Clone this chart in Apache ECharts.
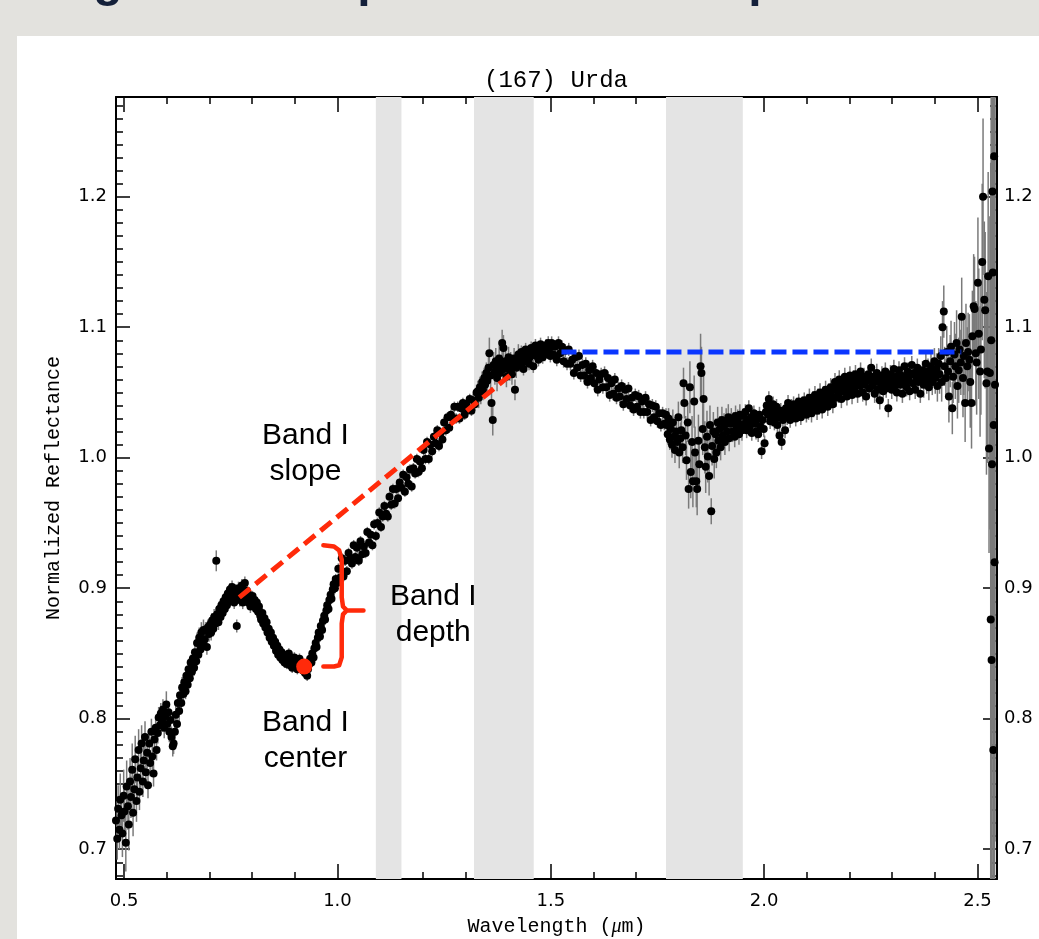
<!DOCTYPE html>
<html style="height: 100%">
<head>
    <meta charset="utf-8">
</head>
<body style="height: 100%; margin: 0">
<div id="container" style="width: 1039px; height: 939px"></div>
<script type="text/javascript" src="https://cdn.jsdelivr.net/npm/echarts@6/dist/echarts.min.js"></script>
<script type="text/javascript">
// spectrum of (167) Urda: [wavelength (um), normalized reflectance, 1-sigma]
var segBlue = [
    [0.481,0.722,0.015],[0.484,0.708,0.016],[0.486,0.731,0.018],[0.489,0.715,0.015],[0.491,0.738,0.02],
    [0.494,0.726,0.016],[0.496,0.712,0.018],[0.499,0.741,0.02],[0.501,0.729,0.018],[0.504,0.705,0.022],
    [0.506,0.748,0.02],[0.509,0.733,0.018],[0.511,0.719,0.02],[0.514,0.752,0.018],[0.516,0.740,0.016],
    [0.519,0.761,0.02],[0.521,0.728,0.018],[0.524,0.746,0.016],[0.526,0.769,0.018],[0.529,0.737,0.016],
    [0.531,0.755,0.015],[0.534,0.776,0.016],[0.536,0.744,0.014],[0.539,0.762,0.015],[0.541,0.781,0.014],
    [0.544,0.752,0.012],[0.546,0.768,0.012],[0.549,0.786,0.012],[0.551,0.759,0.012],[0.554,0.774,0.012],
    [0.556,0.749,0.01],[0.559,0.781,0.01],[0.561,0.766,0.01],[0.564,0.790,0.01],[0.566,0.771,0.01],
    [0.569,0.758,0.01],[0.571,0.784,0.008],[0.574,0.793,0.008],[0.576,0.776,0.008],[0.579,0.789,0.008],
    [0.581,0.801,0.008],[0.584,0.795,0.008],[0.586,0.804,0.008],[0.589,0.798,0.008],[0.591,0.807,0.008],
    [0.594,0.793,0.008],[0.596,0.802,0.008],[0.599,0.811,0.01],[0.601,0.796,0.008],[0.604,0.805,0.008],
    [0.606,0.790,0.008],[0.609,0.799,0.008],[0.611,0.786,0.008],[0.614,0.779,0.008],[0.616,0.781,0.008],
    [0.619,0.790,0.008],[0.621,0.803,0.008],[0.624,0.796,0.008],[0.626,0.812,0.008],[0.629,0.806,0.008],
    [0.631,0.818,0.008],[0.634,0.812,0.008],[0.636,0.824,0.008],[0.639,0.819,0.008]
];
var segRise = [
    [0.641,0.828,0.006],[0.644,0.821,0.006],[0.646,0.833,0.006],[0.649,0.826,0.006],[0.651,0.838,0.006],
    [0.654,0.831,0.006],[0.656,0.843,0.006],[0.659,0.836,0.006],[0.661,0.846,0.006],[0.664,0.839,0.006],
    [0.666,0.851,0.008],[0.669,0.844,0.006],[0.671,0.858,0.008],[0.674,0.849,0.006],[0.676,0.862,0.008],
    [0.679,0.853,0.006],[0.681,0.866,0.008],[0.684,0.858,0.006],[0.686,0.868,0.008],[0.689,0.861,0.006],
    [0.691,0.868,0.006],[0.694,0.855,0.006],[0.696,0.870,0.006],[0.699,0.865,0.006],[0.701,0.872,0.006],
    [0.704,0.866,0.006],[0.706,0.875,0.006],[0.709,0.869,0.006],[0.711,0.878,0.006],[0.714,0.873,0.006],
    [0.716,0.921,0.008],[0.718,0.880,0.006],[0.721,0.874,0.006],[0.723,0.884,0.006],[0.726,0.878,0.005],
    [0.728,0.887,0.005],[0.731,0.881,0.005],[0.733,0.890,0.005],[0.736,0.884,0.005],[0.738,0.893,0.005],
    [0.741,0.887,0.005],[0.743,0.896,0.005],[0.746,0.890,0.005],[0.748,0.899,0.005],[0.751,0.893,0.005],
    [0.753,0.901,0.005],[0.756,0.895,0.005],[0.758,0.889,0.005],[0.761,0.898,0.005],[0.764,0.871,0.005],
    [0.766,0.893,0.005],[0.768,0.900,0.005],[0.771,0.891,0.005],[0.773,0.896,0.005],[0.776,0.902,0.005],
    [0.778,0.889,0.005],[0.781,0.897,0.005],[0.783,0.904,0.005],[0.786,0.892,0.005],[0.788,0.898,0.005],
    [0.791,0.889,0.005],[0.793,0.895,0.005],[0.796,0.886,0.005],[0.798,0.891,0.005]
];
var segBandI = [
    [0.801,0.894,0.004],[0.804,0.887,0.004],[0.806,0.891,0.004],[0.809,0.884,0.004],[0.811,0.889,0.004],
    [0.814,0.882,0.004],[0.816,0.886,0.004],[0.819,0.879,0.004],[0.821,0.876,0.004],[0.824,0.881,0.004],
    [0.826,0.873,0.004],[0.829,0.877,0.004],[0.831,0.870,0.004],[0.834,0.874,0.004],[0.836,0.866,0.004],
    [0.839,0.869,0.004],[0.841,0.862,0.004],[0.844,0.866,0.004],[0.846,0.859,0.004],[0.849,0.862,0.004],
    [0.851,0.856,0.004],[0.854,0.859,0.004],[0.856,0.852,0.004],[0.859,0.856,0.004],[0.861,0.849,0.004],
    [0.864,0.853,0.004],[0.866,0.847,0.004],[0.869,0.851,0.004],[0.871,0.845,0.004],[0.874,0.849,0.004],
    [0.876,0.843,0.004],[0.879,0.847,0.004],[0.881,0.842,0.004],[0.884,0.846,0.004],[0.886,0.850,0.004],
    [0.889,0.841,0.004],[0.891,0.845,0.004],[0.894,0.839,0.004],[0.896,0.843,0.004],[0.899,0.847,0.004],
    [0.901,0.840,0.004],[0.904,0.844,0.004],[0.906,0.838,0.004],[0.909,0.842,0.004],[0.911,0.846,0.004],
    [0.914,0.839,0.004],[0.916,0.843,0.004],[0.919,0.837,0.004],[0.921,0.841,0.004],[0.924,0.835,0.004],
    [0.926,0.839,0.004],[0.929,0.833,0.004],[0.931,0.838,0.004],[0.934,0.842,0.004],[0.936,0.846,0.004],
    [0.939,0.843,0.004],[0.941,0.850,0.004],[0.944,0.847,0.004],[0.946,0.854,0.004],[0.949,0.858,0.004],
    [0.951,0.855,0.004],[0.954,0.862,0.004],[0.956,0.866,0.004],[0.959,0.863,0.004],[0.961,0.871,0.004],
    [0.964,0.868,0.004],[0.966,0.875,0.004],[0.969,0.879,0.004],[0.971,0.876,0.004],[0.974,0.883,0.004],
    [0.976,0.887,0.004],[0.979,0.884,0.004],[0.981,0.891,0.004],[0.984,0.895,0.004],[0.986,0.892,0.004],
    [0.989,0.899,0.004],[0.991,0.903,0.004],[0.994,0.900,0.004],[0.996,0.907,0.004],[0.999,0.904,0.004]
];
var segShoulder = [
    [1.002,0.915,0.004],[1.006,0.908,0.004],[1.010,0.923,0.004],[1.014,0.909,0.004],[1.018,0.921,0.004],
    [1.022,0.913,0.004],[1.026,0.927,0.004],[1.030,0.923,0.004],[1.034,0.919,0.004],[1.038,0.933,0.004],
    [1.042,0.924,0.004],[1.046,0.931,0.004],[1.050,0.921,0.004],[1.054,0.936,0.004],[1.058,0.926,0.004],
    [1.062,0.932,0.004],[1.066,0.927,0.004],[1.070,0.943,0.004],[1.074,0.935,0.004],[1.078,0.941,0.004],
    [1.082,0.933,0.004],[1.086,0.949,0.004],[1.090,0.940,0.004],[1.094,0.950,0.004],[1.098,0.958,0.004],
    [1.102,0.947,0.004],[1.106,0.955,0.004],[1.110,0.963,0.004],[1.114,0.957,0.004],[1.118,0.955,0.004],
    [1.122,0.970,0.004],[1.126,0.964,0.004],[1.130,0.976,0.004],[1.134,0.965,0.004],[1.138,0.976,0.004],
    [1.142,0.969,0.004],[1.146,0.981,0.004],[1.150,0.977,0.004],[1.154,0.987,0.004],[1.158,0.974,0.004],
    [1.162,0.985,0.004],[1.166,0.980,0.004],[1.170,0.991,0.004],[1.174,0.978,0.004],[1.178,0.992,0.004],
    [1.182,0.988,0.004],[1.186,0.999,0.004],[1.190,0.989,0.004],[1.194,0.997,0.004],[1.198,0.992,0.004],
    [1.202,1.006,0.004],[1.206,0.999,0.004],[1.210,1.012,0.004],[1.214,0.999,0.004],[1.218,1.010,0.004],
    [1.222,1.005,0.004],[1.226,1.016,0.004],[1.230,1.011,0.004],[1.234,1.021,0.004],[1.238,1.009,0.004],
    [1.242,1.019,0.004],[1.246,1.014,0.004],[1.250,1.027,0.004],[1.254,1.021,0.004],[1.258,1.031,0.004],
    [1.262,1.023,0.004],[1.266,1.033,0.004],[1.270,1.030,0.004],[1.274,1.039,0.004],[1.278,1.030,0.004],
    [1.282,1.039,0.004],[1.286,1.030,0.004],[1.290,1.038,0.004],[1.294,1.042,0.004],[1.298,1.033,0.004],
    [1.302,1.041,0.004],[1.306,1.037,0.004],[1.310,1.045,0.004],[1.314,1.036,0.004],[1.318,1.044,0.005],
    [1.322,1.041,0.005],[1.326,1.050,0.006]
];
var segWater = [
    [1.329,1.051,0.008],[1.331,1.046,0.008],[1.334,1.054,0.008],[1.336,1.049,0.008],
    [1.339,1.058,0.008],[1.341,1.052,0.008],[1.344,1.061,0.008],[1.346,1.056,0.008],[1.349,1.065,0.008],
    [1.351,1.059,0.01],[1.354,1.069,0.01],[1.356,1.080,0.012],[1.359,1.063,0.01],[1.361,1.042,0.012],
    [1.364,1.029,0.012],[1.366,1.071,0.01],[1.369,1.066,0.01],[1.371,1.074,0.01],[1.374,1.061,0.01],
    [1.376,1.069,0.01],[1.379,1.076,0.01],[1.381,1.065,0.008],[1.384,1.071,0.008],[1.386,1.088,0.01],
    [1.389,1.084,0.01],[1.391,1.068,0.008],[1.394,1.074,0.008],[1.396,1.062,0.008],[1.399,1.070,0.008],
    [1.401,1.077,0.008],[1.404,1.067,0.008],[1.406,1.073,0.008],[1.409,1.064,0.008],[1.411,1.071,0.008],
    [1.414,1.076,0.008],[1.416,1.052,0.008],[1.419,1.069,0.008],[1.421,1.074,0.008],[1.424,1.079,0.008],
    [1.426,1.071,0.005],[1.429,1.076,0.005],[1.431,1.081,0.005],[1.434,1.073,0.005],[1.436,1.068,0.005],
    [1.439,1.078,0.005],[1.441,1.083,0.005],[1.444,1.075,0.005],[1.446,1.080,0.005],[1.449,1.072,0.005],
    [1.451,1.077,0.005],[1.454,1.084,0.005],[1.456,1.079,0.005],[1.459,1.070,0.005],[1.461,1.081,0.005],
    [1.464,1.086,0.005],[1.466,1.078,0.005],[1.469,1.083,0.005],[1.471,1.075,0.005],[1.474,1.080,0.005],
    [1.476,1.087,0.005],[1.479,1.082,0.005],[1.481,1.077,0.005],[1.484,1.084,0.005],[1.486,1.079,0.005],
    [1.489,1.086,0.005],[1.491,1.081,0.005],[1.494,1.088,0.005],[1.496,1.083,0.005],[1.499,1.078,0.005]
];
var segDecline = [
    [1.502,1.088,0.005],[1.506,1.079,0.005],[1.510,1.085,0.005],[1.514,1.075,0.005],[1.518,1.088,0.005],
    [1.522,1.080,0.005],[1.526,1.085,0.005],[1.530,1.074,0.005],[1.534,1.082,0.005],[1.538,1.072,0.005],
    [1.542,1.083,0.005],[1.546,1.072,0.005],[1.550,1.075,0.005],[1.554,1.065,0.005],[1.558,1.077,0.005],
    [1.562,1.069,0.005],[1.566,1.078,0.005],[1.570,1.063,0.005],[1.574,1.071,0.005],[1.578,1.063,0.005],
    [1.582,1.072,0.005],[1.586,1.058,0.005],[1.590,1.067,0.005],[1.594,1.061,0.005],[1.598,1.070,0.005],
    [1.602,1.057,0.005],[1.606,1.065,0.005],[1.610,1.052,0.005],[1.614,1.060,0.005],[1.618,1.064,0.005],
    [1.622,1.054,0.005],[1.626,1.065,0.005],[1.630,1.054,0.005],[1.634,1.061,0.005],[1.638,1.048,0.005],
    [1.642,1.057,0.005],[1.646,1.049,0.005],[1.650,1.060,0.005],[1.654,1.046,0.005],[1.658,1.053,0.005],
    [1.662,1.047,0.005],[1.666,1.055,0.005],[1.670,1.041,0.005],[1.674,1.052,0.005],[1.678,1.045,0.005],
    [1.682,1.053,0.005],[1.686,1.040,0.005],[1.690,1.046,0.005],[1.694,1.037,0.005],[1.698,1.048,0.005],
    [1.702,1.039,0.005],[1.706,1.047,0.005],[1.710,1.035,0.005],[1.714,1.043,0.005],[1.718,1.035,0.005],
    [1.722,1.046,0.005],[1.726,1.035,0.005],[1.730,1.041,0.005],[1.734,1.029,0.005],[1.738,1.040,0.005],
    [1.742,1.031,0.005],[1.746,1.039,0.005],[1.750,1.028,0.005],[1.754,1.034,0.005],[1.758,1.025,0.005],
    [1.762,1.034,0.005],[1.766,1.026,0.005],[1.770,1.033,0.005]
];
var segTelluric = [
    [1.771,1.025,0.008],[1.774,1.018,0.008],[1.776,1.030,0.008],[1.779,1.014,0.008],[1.781,1.022,0.008],
    [1.784,1.010,0.01],[1.786,1.027,0.01],[1.789,1.016,0.01],[1.791,1.006,0.01],[1.794,1.020,0.01],
    [1.796,1.012,0.01],[1.799,1.031,0.012],[1.801,1.004,0.012],[1.804,1.015,0.012],[1.806,1.021,0.012],
    [1.809,1.008,0.012],[1.811,1.057,0.012],[1.813,1.042,0.012],[1.816,1.017,0.015],[1.818,0.998,0.015],
    [1.821,1.027,0.015],[1.823,0.976,0.015],[1.826,1.054,0.02],[1.828,0.989,0.02],[1.831,1.012,0.02],
    [1.833,0.982,0.02],[1.836,1.043,0.02],[1.838,1.004,0.02],[1.841,0.982,0.02],[1.843,0.976,0.02],
    [1.846,1.013,0.02],[1.848,0.995,0.02],[1.851,1.070,0.025],[1.853,1.065,0.02],[1.856,1.022,0.02],
    [1.858,1.045,0.02],[1.861,1.008,0.02],[1.863,0.993,0.02],[1.866,1.016,0.02],[1.868,1.001,0.02],
    [1.871,0.986,0.015],[1.873,1.025,0.015],[1.876,0.959,0.01],[1.878,1.009,0.015],[1.881,1.020,0.015],
    [1.883,0.999,0.015],[1.886,1.018,0.012],[1.888,1.004,0.012],[1.891,1.027,0.012],[1.893,1.013,0.012],
    [1.896,1.022,0.01],[1.898,1.008,0.01],[1.901,1.029,0.01],[1.903,1.017,0.01],[1.906,1.024,0.01],
    [1.908,1.012,0.01],[1.911,1.028,0.01],[1.913,1.020,0.01],[1.916,1.031,0.01],[1.918,1.015,0.01],
    [1.921,1.026,0.008],[1.923,1.030,0.008],[1.926,1.020,0.008],[1.928,1.027,0.008],[1.931,1.016,0.008],
    [1.933,1.032,0.008],[1.936,1.023,0.008],[1.938,1.029,0.008],[1.941,1.018,0.008],[1.943,1.033,0.008],
    [1.946,1.025,0.008],[1.948,1.021,0.008]
];
var segBandII = [
    [1.951,1.032,0.006],[1.954,1.026,0.006],[1.956,1.035,0.006],[1.959,1.021,0.006],[1.961,1.029,0.006],
    [1.964,1.038,0.006],[1.966,1.024,0.006],[1.969,1.031,0.006],[1.971,1.019,0.006],[1.974,1.027,0.006],
    [1.976,1.034,0.006],[1.979,1.026,0.006],[1.981,1.020,0.006],[1.984,1.030,0.006],[1.986,1.018,0.006],
    [1.989,1.033,0.006],[1.991,1.024,0.006],[1.994,1.005,0.006],[1.996,1.029,0.006],[1.999,1.022,0.006],
    [2.001,1.011,0.006],[2.004,1.035,0.006],[2.006,1.040,0.006],[2.009,1.033,0.006],[2.011,1.045,0.006],
    [2.014,1.028,0.006],[2.016,1.036,0.006],[2.019,1.030,0.006],[2.021,1.041,0.006],[2.024,1.027,0.006],
    [2.026,1.034,0.006],[2.029,1.039,0.006],[2.031,1.025,0.006],[2.034,1.031,0.006],[2.036,1.017,0.006],
    [2.039,1.036,0.006],[2.041,1.012,0.006],[2.044,1.029,0.006],[2.046,1.034,0.006],[2.049,1.021,0.006],
    [2.051,1.038,0.006],[2.054,1.031,0.006],[2.056,1.042,0.006],[2.059,1.035,0.006],[2.061,1.029,0.006],
    [2.064,1.039,0.006],[2.066,1.033,0.006],[2.069,1.041,0.006],[2.071,1.035,0.006],[2.074,1.030,0.006],
    [2.076,1.040,0.006],[2.079,1.034,0.006],[2.081,1.043,0.006],[2.084,1.037,0.006],[2.086,1.031,0.006],
    [2.089,1.041,0.006],[2.091,1.035,0.006],[2.094,1.044,0.006],[2.096,1.038,0.006],[2.099,1.033,0.006]
];
var segPlateau = [
    [2.101,1.042,0.007],[2.104,1.036,0.007],[2.106,1.046,0.007],[2.109,1.040,0.007],[2.111,1.034,0.007],
    [2.114,1.044,0.007],[2.116,1.038,0.007],[2.119,1.048,0.007],[2.121,1.041,0.007],[2.124,1.036,0.007],
    [2.126,1.046,0.007],[2.129,1.040,0.007],[2.131,1.050,0.007],[2.134,1.043,0.007],[2.136,1.037,0.007],
    [2.139,1.048,0.007],[2.141,1.042,0.007],[2.144,1.052,0.007],[2.146,1.045,0.007],[2.149,1.039,0.007],
    [2.151,1.050,0.007],[2.154,1.044,0.007],[2.156,1.054,0.007],[2.159,1.047,0.007],[2.161,1.041,0.007],
    [2.164,1.052,0.007],[2.166,1.058,0.007],[2.169,1.046,0.007],[2.171,1.055,0.007],[2.174,1.049,0.007],
    [2.176,1.060,0.007],[2.179,1.052,0.007],[2.181,1.045,0.007],[2.184,1.057,0.007],[2.186,1.051,0.007],
    [2.189,1.062,0.007],[2.191,1.054,0.007],[2.194,1.047,0.007],[2.196,1.058,0.007],[2.199,1.052,0.007],
    [2.201,1.063,0.007],[2.204,1.055,0.007],[2.206,1.048,0.007],[2.209,1.060,0.007],[2.211,1.053,0.007],
    [2.214,1.064,0.007],[2.216,1.056,0.007],[2.219,1.049,0.007],[2.221,1.061,0.007],[2.224,1.055,0.007],
    [2.226,1.066,0.007],[2.229,1.057,0.007],[2.231,1.050,0.007],[2.234,1.062,0.007],[2.236,1.056,0.007],
    [2.239,1.047,0.007],[2.241,1.059,0.007],[2.244,1.064,0.007],[2.246,1.053,0.007],[2.249,1.060,0.007],
    [2.251,1.069,0.007],[2.254,1.055,0.007],[2.256,1.062,0.007],[2.259,1.049,0.007],[2.261,1.058,0.007],
    [2.264,1.065,0.007],[2.266,1.052,0.007],[2.269,1.060,0.007],[2.271,1.044,0.007],[2.274,1.056,0.007],
    [2.276,1.063,0.007],[2.279,1.051,0.007],[2.281,1.058,0.007],[2.284,1.066,0.007],[2.286,1.053,0.007],
    [2.289,1.061,0.007],[2.291,1.038,0.007],[2.294,1.057,0.007],[2.296,1.064,0.007],[2.299,1.052,0.007],
    [2.301,1.060,0.007],[2.304,1.068,0.007],[2.306,1.055,0.007],[2.309,1.062,0.007],[2.311,1.050,0.007],
    [2.314,1.059,0.007],[2.316,1.067,0.007],[2.319,1.056,0.007],[2.321,1.063,0.007],[2.324,1.049,0.007],
    [2.326,1.058,0.007],[2.329,1.070,0.007],[2.331,1.061,0.007],[2.334,1.054,0.007],[2.336,1.066,0.007],
    [2.339,1.059,0.007],[2.341,1.051,0.007],[2.344,1.064,0.007],[2.346,1.071,0.007],[2.349,1.057,0.007],
    [2.351,1.065,0.007],[2.354,1.052,0.007],[2.356,1.062,0.007],[2.359,1.069,0.007],[2.361,1.058,0.007],
    [2.364,1.064,0.007],[2.366,1.049,0.007],[2.369,1.060,0.007],[2.371,1.067,0.007],[2.374,1.056,0.01],
    [2.376,1.063,0.01],[2.379,1.072,0.01],[2.381,1.059,0.01],[2.384,1.066,0.01],[2.386,1.054,0.01],
    [2.389,1.062,0.01],[2.391,1.070,0.01],[2.394,1.058,0.01],[2.396,1.065,0.01],[2.399,1.074,0.01]
];
var segRedEdge = [
    [2.401,1.061,0.012],[2.404,1.068,0.012],[2.406,1.055,0.012],[2.409,1.072,0.012],[2.411,1.064,0.015],
    [2.414,1.078,0.015],[2.416,1.058,0.015],[2.418,1.100,0.02],[2.421,1.112,0.02],[2.423,1.070,0.015],
    [2.426,1.061,0.015],[2.428,1.081,0.02],[2.431,1.066,0.02],[2.433,1.047,0.02],[2.436,1.074,0.02],
    [2.438,1.085,0.02],[2.441,1.038,0.02],[2.443,1.062,0.02],[2.446,1.079,0.025],[2.448,1.070,0.025],
    [2.451,1.088,0.025],[2.453,1.055,0.025],[2.456,1.067,0.025],[2.458,1.083,0.025],[2.461,1.073,0.025],
    [2.463,1.108,0.03],[2.466,1.061,0.03],[2.468,1.078,0.03],[2.471,1.042,0.03],[2.473,1.088,0.03],
    [2.476,1.070,0.03],[2.478,1.081,0.03],[2.481,1.075,0.035],[2.483,1.058,0.035],[2.486,1.042,0.035],
    [2.488,1.093,0.035],[2.491,1.116,0.04],[2.493,1.114,0.04],[2.496,1.080,0.04],[2.498,1.073,0.04],
    [2.501,1.134,0.05],[2.503,1.095,0.05],[2.506,1.066,0.05],[2.508,1.083,0.05],[2.511,1.150,0.06],
    [2.513,1.200,0.06],[2.516,1.121,0.06],[2.518,1.113,0.06],[2.521,1.057,0.07],[2.523,1.066,0.07],
    [2.525,1.139,0.08],[2.527,1.007,0.08],[2.529,1.065,0.12],[2.531,0.876,0.35],[2.532,1.090,0.35],
    [2.533,0.845,0.35],[2.534,0.995,0.35],[2.535,1.204,0.35],[2.536,1.142,0.35],[2.537,0.776,0.35],
    [2.538,1.025,0.35],[2.539,1.231,0.35],[2.540,0.920,0.35],[2.541,1.056,0.35]
];
var spectrum = segBlue.concat(segRise, segBandI, segShoulder, segWater, segDecline,
    segTelluric, segBandII, segPlateau, segRedEdge);

// telluric windows (grey)
var telluricBands = [[1.09, 1.15], [1.32, 1.46], [1.77, 1.95]];
// band parameters
var bandISlope = [[0.77, 0.893], [1.415, 1.066]];
var bandIIContinuum = [[1.525, 1.081], [2.462, 1.081]];
var bandICenter = [[0.922, 0.840]];
var bandIDepthBrace = [
    [0.967, 0.933], [0.992, 0.932], [1.004, 0.929], [1.010, 0.922], [1.010, 0.893],
    [1.013, 0.886], [1.022, 0.883], [1.061, 0.883], [1.022, 0.883], [1.013, 0.880],
    [1.010, 0.873], [1.010, 0.847], [1.004, 0.841], [0.992, 0.840], [0.967, 0.840]
];
var labelNames = ['Band I\nslope', 'Band I\ndepth', 'Band I\ncenter'];
var labelPos = [[0.925, 1.003], [1.2245, 0.880], [0.925, 0.783]];

var xMajor = [0.5, 1.0, 1.5, 2.0, 2.5];
var yMajor = [0.7, 0.8, 0.9, 1.0, 1.1, 1.2];
var X_MIN = 0.481, X_MAX = 2.5457;
var Y_MIN = 0.6772, Y_MAX = 1.2764;

var xMinor = [], yMinor = [];
for (var i = 6; i <= 25; i++) { if (i % 5) xMinor.push(i / 10); }
for (var j = 68; j <= 127; j++) { if (j % 10) yMinor.push(j / 100); }

var tickFont = { fontFamily: 'DejaVu Sans', fontSize: 18, color: '#000' };

function xAxisDef(pos, ticks, len, showLine, showLabel) {
    return {
        type: 'value', position: pos, min: X_MIN, max: X_MAX,
        axisLine: { show: showLine, onZero: false, lineStyle: { color: '#000', width: 2 } },
        axisTick: { show: true, inside: true, length: len, customValues: ticks,
            lineStyle: { color: '#000', width: 1.5 } },
        axisLabel: showLabel ? Object.assign({ customValues: ticks, margin: 13,
            formatter: function (v) { return v.toFixed(1); } }, tickFont) : { show: false },
        splitLine: { show: false }
    };
}
function yAxisDef(pos, ticks, len, showLine, showLabel, margin) {
    return {
        type: 'value', position: pos, min: Y_MIN, max: Y_MAX,
        axisLine: { show: showLine, onZero: false, lineStyle: { color: '#000', width: 2 } },
        axisTick: { show: true, inside: true, length: len, customValues: ticks,
            lineStyle: { color: '#000', width: 1.5 } },
        axisLabel: showLabel ? Object.assign({ customValues: ticks, margin: margin,
            formatter: function (v) { return v.toFixed(1); } }, tickFont) : { show: false },
        splitLine: { show: false }
    };
}

var xAxes = [
    xAxisDef('bottom', xMajor, 15, true, true),
    xAxisDef('bottom', xMinor, 7, false, false),
    xAxisDef('top', xMajor, 15, true, false),
    xAxisDef('top', xMinor, 7, false, false)
];
xAxes[0].name = 'Wavelength ({i|\u03bc}m)';
xAxes[0].nameLocation = 'middle';
xAxes[0].nameGap = 38;
xAxes[0].nameTextStyle = { fontFamily: 'Liberation Mono', fontSize: 20, color: '#000',
    rich: { i: { fontFamily: 'Liberation Serif', fontStyle: 'italic', fontSize: 20 } } };

var yAxes = [
    yAxisDef('left', yMajor, 14, true, true, 9),
    yAxisDef('left', yMinor, 7, false, false),
    yAxisDef('right', yMajor, 14, true, true, 7),
    yAxisDef('right', yMinor, 7, false, false)
];
yAxes[0].name = 'Normalized Reflectance';
yAxes[0].nameLocation = 'middle';
yAxes[0].nameGap = 52;
yAxes[0].nameTextStyle = { fontFamily: 'Liberation Mono', fontSize: 20, color: '#000' };

var headingFont = 'bold 48px "Liberation Sans"';
var frameGraphics = [
    { type: 'rect', silent: true, shape: { x: 0, y: 0, width: 1039, height: 36 }, style: { fill: '#e3e2de' } },
    { type: 'rect', silent: true, shape: { x: 0, y: 0, width: 17, height: 939 }, style: { fill: '#e3e2de' } },
    { type: 'text', silent: true, x: 108, y: 7, style: { text: 'g', font: headingFont, fill: '#14203a', align: 'center', verticalAlign: 'bottom' } },
    { type: 'text', silent: true, x: 372, y: 7, style: { text: 'p', font: headingFont, fill: '#14203a', align: 'center', verticalAlign: 'bottom' } },
    { type: 'text', silent: true, x: 763, y: 7, style: { text: 'p', font: headingFont, fill: '#14203a', align: 'center', verticalAlign: 'bottom' } }
];

var dom = document.getElementById('container');
var myChart = echarts.init(dom);
var option = {
    animation: false,
    backgroundColor: '#fff',
    title: {
        text: '(167) Urda', left: 551, top: 64, textAlign: 'center',
        textStyle: { fontFamily: 'Liberation Mono', fontSize: 24, fontWeight: 'normal', color: '#000' }
    },
    graphic: frameGraphics,
    grid: { left: 116, right: 42, top: 97, bottom: 60, containLabel: false, outerBoundsMode: 'none' },
    xAxis: xAxes,
    yAxis: yAxes,
    series: [
        {
            type: 'custom', name: 'telluric', z: 1, silent: true, clip: true,
            data: telluricBands,
            renderItem: function (params, api) {
                var a = api.coord([api.value(0), Y_MAX]);
                var b = api.coord([api.value(1), Y_MIN]);
                return { type: 'rect', shape: { x: a[0], y: a[1], width: b[0] - a[0], height: b[1] - a[1] },
                    style: { fill: '#e4e4e4' } };
            }
        },
        {
            type: 'custom', name: 'errors', z: 2, silent: true, clip: true,
            data: spectrum,
            renderItem: function (params, api) {
                var x = api.value(0), y = api.value(1), s = api.value(2);
                var p0 = api.coord([x, y + s]), p1 = api.coord([x, y - s]);
                return { type: 'line', shape: { x1: p0[0], y1: p0[1], x2: p1[0], y2: p1[1] },
                    style: { stroke: '#7a7a7a', lineWidth: 1.5 } };
            }
        },
        {
            type: 'scatter', name: 'spectrum', z: 3, silent: true, clip: true,
            data: spectrum, symbolSize: 8,
            encode: { x: 0, y: 1 },
            itemStyle: { color: '#000', opacity: 1 }
        },
        {
            type: 'line', name: 'Band I slope', z: 4, silent: true, symbol: 'none',
            data: bandISlope,
            lineStyle: { color: '#ff2a0a', width: 5, type: [14, 7] }
        },
        {
            type: 'line', name: 'Band II continuum', z: 4, silent: true, symbol: 'none',
            data: bandIIContinuum,
            lineStyle: { color: '#0a36ff', width: 5, type: [15, 6] }
        },
        {
            type: 'line', name: 'Band I depth', z: 4, silent: true, symbol: 'none',
            data: bandIDepthBrace,
            lineStyle: { color: '#ff2a0a', width: 4.5, join: 'round', cap: 'round' }
        },
        {
            type: 'scatter', name: 'Band I center', z: 5, silent: true,
            data: bandICenter, symbolSize: 16,
            itemStyle: { color: '#ff2a0a', opacity: 1 }
        }
    ]
};
myChart.setOption(option);

// annotation texts, placed at data positions
var labelGraphics = labelNames.map(function (n, k) {
    var p = myChart.convertToPixel({ xAxisIndex: 0, yAxisIndex: 0 }, labelPos[k]);
    return {
        type: 'text', silent: true, z: 100, x: p[0], y: p[1],
        style: { text: n, font: '30px "Liberation Sans"', fill: '#000', align: 'center',
            verticalAlign: 'middle', lineHeight: 36 }
    };
});
myChart.setOption({ graphic: frameGraphics.concat(labelGraphics) });
</script>
</body>
</html>
